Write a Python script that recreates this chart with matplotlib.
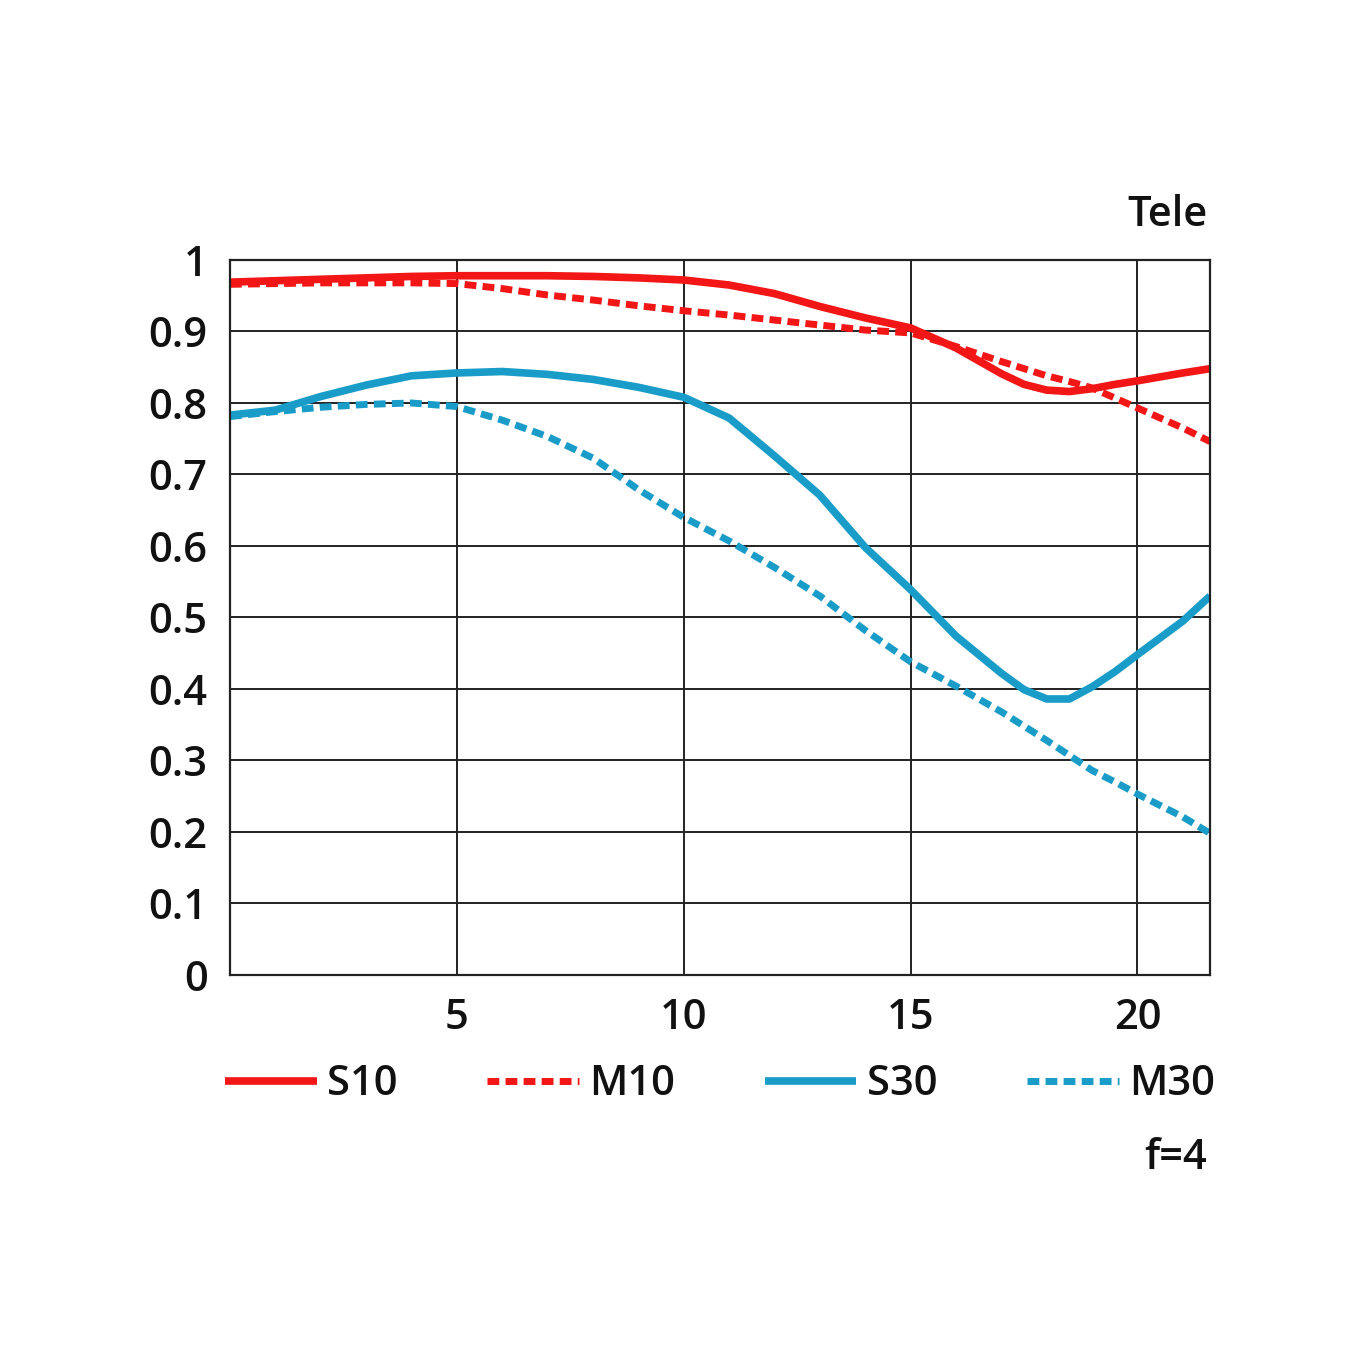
import matplotlib
matplotlib.use("Agg")
import matplotlib.pyplot as plt

# values (image height in mm vs MTF)
x_pts = [0, 1, 2, 3, 4, 5, 6, 7, 8, 9, 10, 11, 12, 13, 14, 15, 16, 17, 17.5, 18, 18.5, 19, 19.5, 20, 21, 21.6]

s10 = [0.969, 0.971, 0.973, 0.975, 0.977, 0.978, 0.978, 0.978, 0.977, 0.975, 0.972, 0.965, 0.953, 0.935, 0.919, 0.905, 0.877, 0.841, 0.826, 0.818, 0.816, 0.820, 0.826, 0.831, 0.842, 0.848]
m10 = [0.966, 0.967, 0.968, 0.968, 0.968, 0.967, 0.960, 0.951, 0.944, 0.936, 0.929, 0.923, 0.916, 0.909, 0.902, 0.898, 0.879, 0.858, 0.848, 0.838, 0.830, 0.821, 0.807, 0.793, 0.765, 0.746]
s30 = [0.783, 0.790, 0.809, 0.825, 0.838, 0.842, 0.844, 0.840, 0.833, 0.822, 0.808, 0.779, 0.726, 0.671, 0.598, 0.539, 0.474, 0.422, 0.399, 0.386, 0.386, 0.403, 0.424, 0.448, 0.495, 0.530]
m30 = [0.781, 0.788, 0.794, 0.798, 0.800, 0.795, 0.776, 0.753, 0.723, 0.679, 0.640, 0.607, 0.570, 0.530, 0.482, 0.438, 0.404, 0.368, 0.348, 0.328, 0.307, 0.286, 0.270, 0.253, 0.221, 0.198]

labels = ["S10", "M10", "S30", "M30"]
y_ticks = [0, 0.1, 0.2, 0.3, 0.4, 0.5, 0.6, 0.7, 0.8, 0.9, 1]
y_tick_labels = ["0", "0.1", "0.2", "0.3", "0.4", "0.5", "0.6", "0.7", "0.8", "0.9", "1"]
x_ticks = [5, 10, 15, 20]

red = "#f21616"
blue = "#1a9cc9"
txt = "#111111"
fs = 30

plt.rcParams["font.family"] = ["Open Sans", "DejaVu Sans"]
plt.rcParams["font.weight"] = "semibold"

fig = plt.figure(figsize=(13.72, 13.72), dpi=100)
ax = fig.add_axes([0.1676, 0.2894, 0.8820 - 0.1676, 0.8105 - 0.2894])

dash = (0, (1.7, 0.9))
ax.plot(x_pts, s10, color=red, lw=5.5, label=labels[0], solid_capstyle="butt", solid_joinstyle="round")
ax.plot(x_pts, m10, color=red, lw=5, linestyle=dash, label=labels[1])
ax.plot(x_pts, s30, color=blue, lw=5.5, label=labels[2], solid_capstyle="butt", solid_joinstyle="round")
ax.plot(x_pts, m30, color=blue, lw=5, linestyle=dash, label=labels[3])

ax.set_xlim(0, 21.6)
ax.set_ylim(0, 1)
ax.set_xticks(x_ticks)
ax.set_yticks(y_ticks)
ax.set_yticklabels(y_tick_labels)
ax.tick_params(axis="both", length=0, labelsize=fs, colors=txt)
ax.tick_params(axis="y", pad=16)
ax.tick_params(axis="x", pad=16)
ax.grid(True, color="#222222", linewidth=1.4)
ax.set_axisbelow(True)
for sp in ax.spines.values():
    sp.set_color("#222222")
    sp.set_linewidth(1.6)

leg = ax.legend(loc="upper center", bbox_to_anchor=(0.5, -0.1), ncol=4, frameon=False,
                fontsize=fs, handlelength=2.2, handletextpad=0.25, columnspacing=2.15,
                borderaxespad=0)
for t in leg.get_texts():
    t.set_color(txt)

fig.text(0.880, 0.843, "Tele", ha="right", va="center", fontsize=fs, color=txt)
fig.text(0.880, 0.156, "f=4", ha="right", va="center", fontsize=fs, color=txt)

fig.savefig("out.png", dpi=100, facecolor="white")
